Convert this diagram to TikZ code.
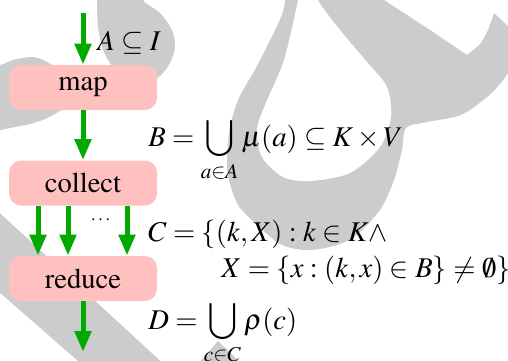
\documentclass[tikz,border=0pt]{standalone}
\usepackage[T1]{fontenc}
\usepackage{mathptmx}
\usetikzlibrary{arrows.meta}
\definecolor{glyphgray}{RGB}{204,204,204}
\definecolor{nodepink}{RGB}{255,192,192}
\definecolor{flowgreen}{RGB}{0,170,0}
\tikzset{
  bigfont/.style={font=\fontsize{14.3}{17}\selectfont},
  proc/.style={bigfont, fill=nodepink, rounded corners=6pt, minimum width=74pt,
    minimum height=22.5pt, inner sep=0pt},
  flow/.style={draw=flowgreen, line width=2.5pt,
    -{Triangle[width=8pt,length=10.5pt]}},
  lbl/.style={bigfont, anchor=base west, inner sep=0pt},
  glyph/.style={fill=glyphgray}
}
\begin{document}
\begin{tikzpicture}[x=0.5pt,y=-0.5pt]
\useasboundingbox (0,0) rectangle (508,360);
\begin{scope}
\clip (0,0) rectangle (508,360);
% big loop with curl
\fill[glyph] (287,-20) -- (354,-20)
  -- plot[smooth] coordinates {(354,-20) (384,0) (430,30) (467,55)}
  -- plot[smooth] coordinates {(467,55) (480,44) (488,30) (494,13)}
  -- (512,30) -- (512,68)
  -- plot[smooth] coordinates {(512,68) (500,84) (487,97) (461,115) (427,122) (406,128)
     (402,150) (394,180) (380,210) (354,237) (330,247) (304,250) (280,244) (256,224)
     (238,205) (229,180) (227,160) (230,127) (239,98) (257,66) (276,28) (284,8) (287,-20)}
  -- cycle;
% hole of the loop
\fill[white] plot[smooth] coordinates {(300,-20) (298,0) (284,60) (265,105) (257,130)
     (262,157) (283,177) (310,181) (350,173) (380,147) (391,117) (387,87) (367,62)
     (340,30) (318,0) (316,-20)} -- cycle;
% top-left teardrop
\fill[glyph] plot[smooth] coordinates {(97,-20) (97,0) (98,27) (103,50) (113,67) (127,77)
     (145,83) (160,76) (170,63) (175,47) (172,30) (160,13) (143,0) (140,-20)} -- cycle;
% left blob
\fill[glyph] plot[smooth] coordinates {(-20,64) (0,65) (13,60) (33,57) (47,62) (62,72)
     (72,88) (68,104) (58,112) (45,119) (30,124) (15,127) (0,130) (-20,131)} -- cycle;
% diagonal band
\fill[glyph] (-10,204) -- (168,368) -- (86,368) -- (-10,284) -- cycle;
% small wedge
\fill[glyph] (218,341) -- (242,364) -- (198,364) -- cycle;
\end{scope}

\node[proc] (map) at (83,87.5) {map};
\node[proc] (collect) at (83,183) {collect};
\node[proc] (reduce) at (83,278.5) {reduce};

\coordinate (in) at (83,13);
\coordinate (out) at (83,352);

\draw[flow] (in) -- (map.north);
\draw[flow] (map.south) -- (collect.north);
\draw[flow] ([xshift=-22.5pt]collect.south) -- ([xshift=-22.5pt]reduce.north);
\draw[flow] ([xshift=-7.5pt]collect.south) -- ([xshift=-7.5pt]reduce.north);
\draw[flow] ([xshift=22pt]collect.south) -- ([xshift=22pt]reduce.north);
\draw[flow] (reduce.south) -- (out);

\node[inner sep=0pt, font=\fontsize{9}{10}\selectfont] (dots) at (102,220) {\dots};

\node[lbl] (la) at (97,50) {$A \subseteq I$};
\node[lbl] (lb) at (148,146) {$\displaystyle B = \bigcup_{a\in A} \mu(a) \subseteq K \times V$};
\node[lbl] (lc) at (148,241) {$C = \{(k,X) : k \in K \wedge$};
\node[lbl] (lx) at (221,277.5) {$X = \{x : (k,x) \in B\} \neq \emptyset\}$};
\node[lbl] (ld) at (148,329) {$\displaystyle D = \bigcup_{c\in C} \rho(c)$};
\end{tikzpicture}
\end{document}
